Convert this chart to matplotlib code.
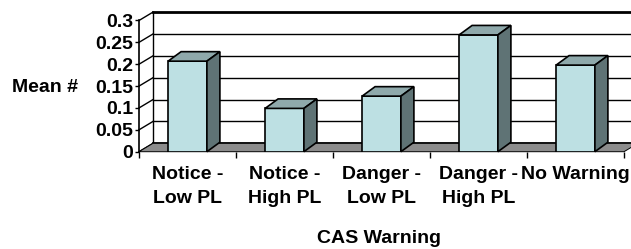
import matplotlib.pyplot as plt
import matplotlib.patches as patches
import numpy as np

# дані
categories = ['Notice -\nLow PL', 'Notice -\nHigh PL', 'Danger -\nLow PL', 'Danger -\nHigh PL', 'No Warning']
means = [0.207, 0.099, 0.127, 0.267, 0.198]
yticks = [0, 0.05, 0.1, 0.15, 0.2, 0.25, 0.3]
ytick_labels = ['0', '0.05', '0.1', '0.15', '0.2', '0.25', '0.3']

plt.rcParams['font.family'] = ['Liberation Sans', 'DejaVu Sans']
plt.rcParams['font.weight'] = 'bold'

W, H = 631, 249
fig = plt.figure(figsize=(W / 100, H / 100), dpi=100)

# передня площина осей у пікселях
x0, x1 = 139, 624
y0, y1 = 151.7, 20.5
ax = fig.add_axes([x0 / W, 1 - y0 / H, (x1 - x0) / W, (y0 - y1) / H])
ax.set_xlim(-0.5, 4.5)
ax.set_ylim(0, 0.3)

# перерахунок пікселів у дані
px_x = 5 / (x1 - x0)
px_y = 0.3 / (y0 - y1)
wdx, wdy = 14 * px_x, 8.4 * px_y     # глибина стінок
bdx, bdy = 13 * px_x, 9.5 * px_y     # глибина стовпців

# задня стінка з сіткою
for v in yticks:
    ax.plot([-0.5, -0.5 + wdx], [v, v + wdy], color='black', lw=1, clip_on=False, zorder=1)
    ax.plot([-0.5 + wdx, 4.5 + wdx], [v + wdy, v + wdy], color='black',
            lw=2 if v in (0, 0.3) else 1, clip_on=False, zorder=1)
ax.plot([-0.5 + wdx, -0.5 + wdx], [wdy, 0.3 + wdy], color='black', lw=1, clip_on=False, zorder=1)

# підлога
floor = patches.Polygon([(-0.5, 0), (4.5, 0), (4.5 + wdx, wdy), (-0.5 + wdx, wdy)],
                        closed=True, facecolor='#8c8c8c', edgecolor='black', lw=0.7,
                        clip_on=False, zorder=2)
ax.add_patch(floor)

# стовпці
x = np.arange(len(categories))
width = 0.4
bars = ax.bar(x, means, width=width, color='#bde0e3', edgecolor='black', lw=1.2, zorder=3)
for b, m in zip(bars, means):
    l = b.get_x()
    r = l + width
    top = patches.Polygon([(l, m), (r, m), (r + bdx, m + bdy), (l + bdx, m + bdy)],
                          closed=True, facecolor='#8fa9ab', edgecolor='black', lw=1.2,
                          clip_on=False, zorder=3)
    side = patches.Polygon([(r, 0), (r + bdx, bdy), (r + bdx, m + bdy), (r, m)],
                           closed=True, facecolor='#5f7375', edgecolor='black', lw=1.2,
                           clip_on=False, zorder=3)
    ax.add_patch(top)
    ax.add_patch(side)

# осі
for s in ['top', 'right', 'bottom']:
    ax.spines[s].set_visible(False)
ax.spines['left'].set_linewidth(1.2)
ax.spines['left'].set_zorder(4)

ax.set_yticks(yticks)
ax.set_yticklabels(ytick_labels, fontsize=14, fontweight='bold')
ax.tick_params(axis='y', direction='out', length=3, width=1, pad=1)

ax.set_xticks(x)
ax.set_xticklabels(categories, fontsize=14, fontweight='bold', linespacing=1.6)
ax.set_xticks(np.arange(-0.5, 5, 1), minor=True)
ax.tick_params(axis='x', which='major', length=0, pad=10)
ax.tick_params(axis='x', which='minor', direction='out', length=4, width=1)

fig.text(78 / W, 1 - 87 / H, 'Mean #', ha='right', va='center', fontsize=14, fontweight='bold')
fig.text(379 / W, 1 - 238 / H, 'CAS Warning', ha='center', va='center', fontsize=14, fontweight='bold')

fig.savefig('out.png', dpi=100)
